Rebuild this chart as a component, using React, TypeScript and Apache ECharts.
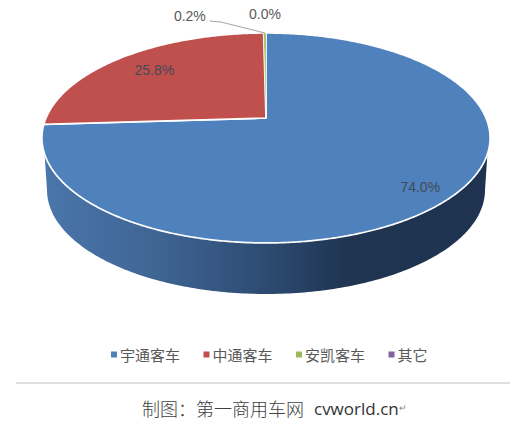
import React, { useEffect, useRef } from "react";
import * as echarts from "echarts";

const categories = ["宇通客车", "中通客车", "安凯客车", "其它"];
const shares = [74.0, 25.8, 0.2, 0.0];
const colors = ["#4F81BD", "#C0504D", "#9BBB59", "#8064A2"];
const captionMain = "制图\uFF1A第一商用车网";
const captionSite = "cvworld.cn";

const FONT = '"Liberation Sans", Arial, sans-serif';
const CJK = '"Noto Sans CJK SC", sans-serif';
const LABEL = "#404a58";

// Perspective model of the pie's top face
const VX = 266, VY = 118, A = 220, B = 101.2, K = 0.19;
const project = (deg: number, r = 1): [number, number] => {
  const t = (deg * Math.PI) / 180;
  const a = Math.sin(t) * r, b = Math.cos(t) * r;
  const d = 1 + K * b;
  return [VX + (A * a) / d, VY - (B * b) / d];
};
const total = shares.reduce((s, v) => s + v, 0);
const angleBefore = (i: number) =>
  (shares.slice(0, i).reduce((s, v) => s + v, 0) / total) * 360;

const labelPlace = [
  { r: 0.85, dx: 1, dy: 3 },
  { r: 0.76, dx: 0, dy: 0 },
  { r: 1, dx: -75, dy: -17 },
  { r: 1, dx: -1, dy: -18.5 },
];

function sliceRender(i: number) {
  return () => {
    const a0 = angleBefore(i);
    const a1 = angleBefore(i + 1);
    const mid = (a0 + a1) / 2;
    const children: any[] = [];
    if (shares[i] > 0) {
      const pts: number[][] = [[VX, VY]];
      const n = Math.max(2, Math.ceil(a1 - a0) * 2);
      for (let k = 0; k <= n; k++) pts.push(project(a0 + ((a1 - a0) * k) / n));
      children.push({
        type: "polygon",
        shape: { points: pts },
        style: {
          fill: colors[i],
          stroke: "#ffffff",
          lineWidth: i === 2 ? 0.4 : 1.7,
          lineJoin: "round",
        },
      });
    }
    const p = project(mid, labelPlace[i].r);
    const lx = p[0] + labelPlace[i].dx, ly = p[1] + labelPlace[i].dy;
    if (i === 2) {
      const e = project(mid);
      children.push({
        type: "polyline",
        shape: { points: [[lx + 20, ly + 5], [lx + 31, ly + 6], e] },
        style: { fill: "none", stroke: "#a6a6a6", lineWidth: 1.1 },
      });
    }
    children.push({
      type: "text",
      z2: 10,
      style: {
        x: lx,
        y: ly,
        text: shares[i].toFixed(1) + "%",
        fill: i < 2 ? LABEL : "#595959",
        font: `14px ${FONT}`,
        align: "center",
        verticalAlign: "middle",
      },
    });
    return { type: "group", children };
  };
}

function wallRender() {
  const lower: number[][] = [];
  const cx = 266, cy = 190, rx = 219, ry = 104;
  for (let d = 180; d >= 0; d -= 1) {
    const t = (d * Math.PI) / 180;
    lower.push([cx + rx * Math.cos(t), cy + ry * Math.sin(t)]);
  }
  const upper: number[][] = [];
  for (let d = 60; d <= 300; d += 0.5) {
    const p = project(d);
    if (p[1] >= 154) upper.push(p);
  }
  return {
    type: "polygon",
    shape: { points: [...lower, ...upper] },
    style: {
      fill: new echarts.graphic.LinearGradient(0, 0, 1, 0, [
        { offset: 0, color: "#4a76ab" },
        { offset: 0.25, color: "#3f6594" },
        { offset: 0.5, color: "#2d4b72" },
        { offset: 0.68, color: "#1f3552" },
        { offset: 1, color: "#1f3350" },
      ]),
    },
  };
}

export default function App() {
  const ref = useRef<HTMLDivElement>(null);
  useEffect(() => {
    const chart = echarts.init(ref.current!, null, { renderer: "svg" });
    chart.setOption({
      animation: false,
      backgroundColor: "#ffffff",
      legend: {
        data: categories,
        left: 106,
        top: 342,
        icon: "rect",
        itemWidth: 6,
        itemHeight: 6,
        itemGap: 23.5,
        textStyle: { fontFamily: CJK, fontSize: 15, color: "#595959", padding: [0, 0, 0, -2] },
      },
      series: [
        {
          type: "custom",
          name: "wall",
          coordinateSystem: "none",
          data: [[0]],
          renderItem: wallRender,
          silent: true,
          z: 1,
        },
        ...categories.map((name, i) => ({
          type: "custom",
          name,
          coordinateSystem: "none",
          data: [[shares[i]]],
          itemStyle: { color: colors[i] },
          renderItem: sliceRender(i),
          z: 2 + i,
        })),
      ],
      graphic: [
        {
          type: "line",
          shape: { x1: 16, y1: 383, x2: 510, y2: 383 },
          style: { stroke: "#d4d4d4", lineWidth: 1.4 },
        },
        {
          type: "text",
          left: 142,
          top: 399,
          style: {
            rich: {
              c: { fontFamily: CJK, fontSize: 18, fill: "#404040", fontWeight: 300 },
              e: { fontFamily: '"Open Sans", sans-serif', fontSize: 17, fill: "#333333", padding: [0, 0, 0, 10] },
              m: { fontFamily: FONT, fontSize: 9, fill: "#888888" },
            },
            text: `{c|${captionMain}}{e|${captionSite}}{m|↵}`,
          },
        },
      ],
    });
    return () => chart.dispose();
  }, []);
  return (
    <div
      ref={ref}
      style={{ position: "absolute", left: 0, top: 0, width: 531, height: 430 }}
    />
  );
}
